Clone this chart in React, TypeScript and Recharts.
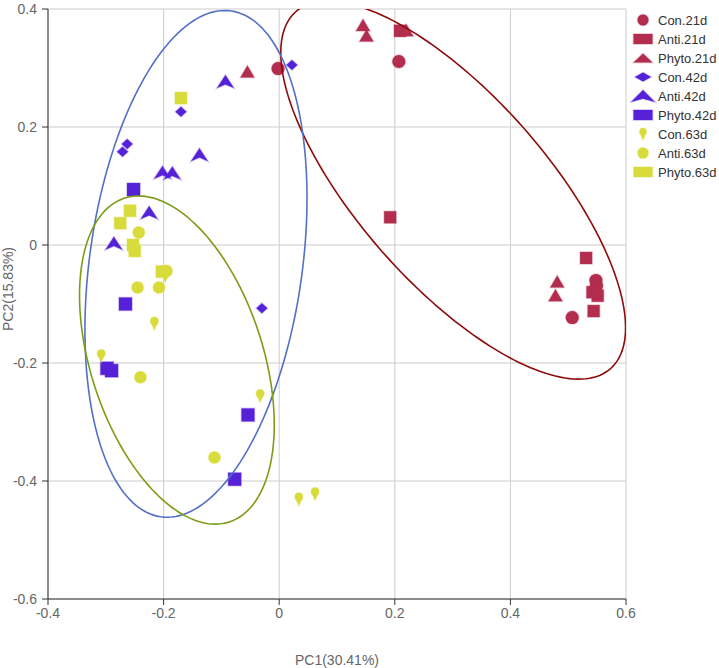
import React from 'react';
import { ScatterChart, Scatter, XAxis, YAxis, CartesianGrid } from 'recharts';

type Pt = [number, number];

// PCA scores (PC1, PC2)
const con21d: Pt[] = [[0.207, 0.311], [-0.002, 0.299], [0.548, -0.06], [0.549, -0.069], [0.547, -0.076], [0.507, -0.123]];
const anti21d: Pt[] = [[0.209, 0.363], [0.192, 0.047], [0.531, -0.022], [0.542, -0.08], [0.551, -0.086], [0.544, -0.112]];
const phyto21d: Pt[] = [[0.145, 0.373], [0.151, 0.355], [0.22, 0.364], [0.481, -0.062], [0.478, -0.085], [-0.055, 0.294]];
const con42d: Pt[] = [[0.022, 0.305], [-0.17, 0.226], [-0.263, 0.171], [-0.271, 0.158], [-0.03, -0.107]];
const anti42d: Pt[] = [[-0.093, 0.277], [-0.138, 0.153], [-0.202, 0.123], [-0.185, 0.122], [-0.225, 0.055], [-0.286, 0.003]];
const phyto42d: Pt[] = [[-0.252, 0.094], [-0.266, -0.1], [-0.298, -0.209], [-0.29, -0.213], [-0.054, -0.288], [-0.077, -0.397]];
const con63d: Pt[] = [[-0.216, -0.133], [-0.308, -0.188], [-0.033, -0.256], [0.034, -0.431], [0.062, -0.422], [-0.197, -0.052]];
const anti63d: Pt[] = [[-0.243, 0.021], [-0.195, -0.044], [-0.245, -0.072], [-0.208, -0.072], [-0.24, -0.224], [-0.112, -0.36]];
const phyto63d: Pt[] = [[-0.17, 0.249], [-0.258, 0.058], [-0.275, 0.037], [-0.253, 0.0], [-0.25, -0.01], [-0.203, -0.045]];

const groupNames = ['Con.21d', 'Anti.21d', 'Phyto.21d', 'Con.42d', 'Anti.42d', 'Phyto.42d', 'Con.63d', 'Anti.63d', 'Phyto.63d'];
const groupPoints = [con21d, anti21d, phyto21d, con42d, anti42d, phyto42d, con63d, anti63d, phyto63d];

const xTicks = [-0.4, -0.2, 0, 0.2, 0.4, 0.6];
const yTicks = [-0.6, -0.4, -0.2, 0, 0.2, 0.4];

// confidence ellipses: centre, semi-axes, rotation (degrees)
const ellipseCenters: Pt[] = [[0.301, 0.093], [-0.144, -0.032], [-0.177, -0.195]];
const ellipseRadii: Pt[] = [[0.407, 0.161], [0.433, 0.184], [0.289, 0.149]];
const ellipseAngles = [-47.8, 81.9, -71.5];

const RED = '#B22D4E';
const BLUE = '#5522D8';
const YELLOW = '#D8DC3A';
const groupColors = [RED, RED, RED, BLUE, BLUE, BLUE, YELLOW, YELLOW, YELLOW];
const groupShapes = ['circle', 'square', 'triangle', 'diamond', 'arrow', 'square', 'pin', 'circle', 'square'];
const markerSize: Pt[] = [[13, 13], [12, 12], [14, 12], [11, 10], [17, 13], [13, 13], [8, 13], [12, 12], [12, 12]];
const legendSize: Pt[] = [[11, 11], [19, 10], [19, 9], [16, 9], [24, 12], [19, 10], [7, 12], [11, 11], [19, 10]];
const ellipseColors = ['#8E0B0B', '#5470C6', '#7C9C14'];

const FONT = '"Liberation Sans", Arial, sans-serif';

function ellipseOutline(i: number) {
  const [cx, cy] = ellipseCenters[i];
  const [rx, ry] = ellipseRadii[i];
  const a = (ellipseAngles[i] * Math.PI) / 180;
  const pts: { x: number; y: number }[] = [];
  for (let k = 0; k <= 180; k++) {
    const t = (k / 180) * Math.PI * 2;
    pts.push({
      x: cx + rx * Math.cos(t) * Math.cos(a) - ry * Math.sin(t) * Math.sin(a),
      y: cy + rx * Math.cos(t) * Math.sin(a) + ry * Math.sin(t) * Math.cos(a),
    });
  }
  return pts;
}

function Symbol({ shape, cx, cy, w, h, color }: { shape: string; cx: number; cy: number; w: number; h: number; color: string }) {
  const common = { fill: color, stroke: color, strokeOpacity: 0.3, strokeWidth: 1.5 };
  if (shape === 'circle') return <circle cx={cx} cy={cy} r={Math.min(w, h) / 2} {...common} />;
  if (shape === 'square') return <rect x={cx - w / 2} y={cy - h / 2} width={w} height={h} {...common} />;
  if (shape === 'triangle')
    return <path d={`M${cx},${cy - h / 2}L${cx + w / 2},${cy + h / 2}L${cx - w / 2},${cy + h / 2}Z`} {...common} />;
  if (shape === 'diamond')
    return <path d={`M${cx},${cy - h / 2}L${cx + w / 2},${cy}L${cx},${cy + h / 2}L${cx - w / 2},${cy}Z`} {...common} />;
  if (shape === 'arrow')
    return (
      <path
        d={`M${cx},${cy - h / 2}L${cx + w / 2},${cy + h / 2}L${cx},${cy + h * 0.22}L${cx - w / 2},${cy + h / 2}Z`}
        {...common}
      />
    );
  // pin
  const r = w / 2;
  const hy = cy - h / 2 + r;
  return (
    <g>
      <path d={`M${cx - r * 0.8},${hy + r * 0.5}L${cx},${cy + h / 2}L${cx + r * 0.8},${hy + r * 0.5}Z`} {...common} />
      <circle cx={cx} cy={hy} r={r} {...common} />
    </g>
  );
}

const XTitle = (props: any) => {
  const vb = props.viewBox;
  return (
    <text x={vb.x + vb.width / 2} y={vb.y + vb.height + 36} textAnchor="middle" fill="#666" fontSize={14} fontFamily={FONT}>
      PC1(30.41%)
    </text>
  );
};

const YTitle = (props: any) => {
  const vb = props.viewBox;
  const x = vb.x + 5;
  const y = vb.y + vb.height / 2 - 15;
  return (
    <text x={x} y={y} transform={`rotate(-90 ${x} ${y})`} textAnchor="middle" fill="#666" fontSize={14} fontFamily={FONT}>
      PC2(15.83%)
    </text>
  );
};

function Legend() {
  return (
    <svg width={89} height={190} style={{ position: 'absolute', left: 630, top: 0 }}>
      {groupNames.map((name, i) => {
        const y = 20 + i * 19;
        return (
          <g key={name}>
            <Symbol shape={groupShapes[i]} cx={13} cy={y} w={legendSize[i][0]} h={legendSize[i][1]} color={groupColors[i]} />
            <text x={28} y={y + 4.5} fontSize={13} fill="#333" fontFamily={FONT}>
              {name}
            </text>
          </g>
        );
      })}
    </svg>
  );
}

export default function App() {
  return (
    <div style={{ position: 'absolute', left: 0, top: 0, width: 719, height: 668, background: '#fff', fontFamily: FONT }}>
      <ScatterChart width={719} height={668} margin={{ top: 9, right: 93, bottom: 39, left: 8 }}>
        <CartesianGrid stroke="#ccc" />
        <XAxis
          type="number"
          dataKey="x"
          domain={[-0.4, 0.6]}
          ticks={xTicks}
          interval={0}
          allowDataOverflow
          height={30}
          tickSize={6}
          tickMargin={3}
          stroke="#333"
          tick={{ fill: '#666', fontSize: 14, fontFamily: FONT }}
          label={{ content: XTitle }}
        />
        <YAxis
          type="number"
          dataKey="y"
          domain={[-0.6, 0.4]}
          ticks={yTicks}
          interval={0}
          allowDataOverflow
          width={40}
          tickSize={6}
          tickMargin={5}
          stroke="#333"
          tick={{ fill: '#666', fontSize: 14, fontFamily: FONT }}
          label={{ content: YTitle }}
        />
        {groupNames.map((name, i) => (
          <Scatter
            key={name}
            name={name}
            data={groupPoints[i].map(([x, y]) => ({ x, y }))}
            fill={groupColors[i]}
            isAnimationActive={false}
            shape={(p: any) => (
              <Symbol shape={groupShapes[i]} cx={p.cx} cy={p.cy} w={markerSize[i][0]} h={markerSize[i][1]} color={groupColors[i]} />
            )}
          />
        ))}
        {ellipseColors.map((c, i) => (
          <Scatter
            key={'ellipse' + i}
            data={ellipseOutline(i)}
            line={{ stroke: c, strokeWidth: 1.6 }}
            lineType="joint"
            fill="none"
            legendType="none"
            isAnimationActive={false}
            shape={() => <g />}
          />
        ))}
      </ScatterChart>
      <Legend />
    </div>
  );
}
